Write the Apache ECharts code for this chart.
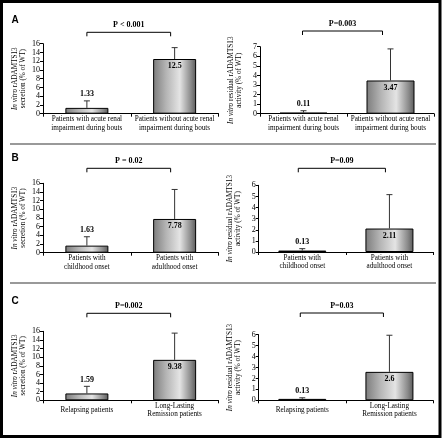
<!DOCTYPE html>
<html>
<head>
<meta charset="utf-8">
<script src="https://cdn.jsdelivr.net/npm/echarts@6/dist/echarts.min.js"></script>
<style>
html,body{margin:0;padding:0;background:#fff;}
#chart{width:442px;height:438px;}
</style>
</head>
<body>
<div id="chart"></div>
<script>
// ---------------- DATA ----------------
const categoriesA = ['Patients with acute renal\nimpairment during bouts', 'Patients without acute renal\nimpairment during bouts'];
const categoriesB = ['Patients with\nchildhood onset', 'Patients with\nadulthood onset'];
const categoriesC = ['Relapsing patients', 'Long-Lasting\nRemission patients'];

const secretionA = [1.33, 12.5];
const secretionSdA = [1.6, 2.6];
const activityA = [0.11, 3.47];
const activitySdA = [0.2, 3.3];

const secretionB = [1.63, 7.78];
const secretionSdB = [2.05, 6.8];
const activityB = [0.13, 2.11];
const activitySdB = [0.17, 3.05];

const secretionC = [1.59, 9.38];
const secretionSdC = [1.65, 6.2];
const activityC = [0.13, 2.6];
const activitySdC = [0.1, 3.35];

const pLabels = ['P < 0.001', 'P=0.003', 'P = 0.02', 'P=0.09', 'P=0.002', 'P=0.03'];
const panelLetters = ['A', 'B', 'C'];

const secretionAxisMax = 16, secretionAxisStep = 2;
const activityAxisMaxA = 7, activityAxisMaxBC = 6, activityAxisStep = 1;

// ---------------- LAYOUT / STYLE ----------------
const SERIF = 'Liberation Serif';
const panels = [
  {grid:{left:43,top:43.7,width:175.5,height:70}, cats:categoriesA, vals:secretionA, sd:secretionSdA, max:secretionAxisMax, step:secretionAxisStep, kind:'secretion', p:pLabels[0], bOff:11.4, bShift:[0,-4]},
  {grid:{left:260,top:46.7,width:174,height:67}, cats:categoriesA, vals:activityA, sd:activitySdA, max:activityAxisMaxA, step:activityAxisStep, kind:'activity', p:pLabels[1], bOff:15.7, bShift:[-1,-8]},
  {grid:{left:43,top:183.3,width:175.5,height:69.4}, cats:categoriesB, vals:secretionB, sd:secretionSdB, max:secretionAxisMax, step:secretionAxisStep, kind:'secretion', p:pLabels[2], bOff:15, bShift:[0,-4]},
  {grid:{left:258.7,top:185.3,width:174.3,height:66.7}, cats:categoriesB, vals:activityB, sd:activitySdB, max:activityAxisMaxBC, step:activityAxisStep, kind:'activity', p:pLabels[3], bOff:17, bShift:[-4,-4]},
  {grid:{left:43,top:331.3,width:175.5,height:69}, cats:categoriesC, vals:secretionC, sd:secretionSdC, max:secretionAxisMax, step:secretionAxisStep, kind:'secretion', p:pLabels[4], bOff:18, bShift:[0,-4]},
  {grid:{left:258.7,top:334.7,width:174.3,height:65.6}, cats:categoriesC, vals:activityC, sd:activitySdC, max:activityAxisMaxBC, step:activityAxisStep, kind:'activity', p:pLabels[5], bOff:21.7, bShift:[-2,-6]}
];

const barFill = {
  type:'linear', x:0, y:0, x2:1, y2:0,
  colorStops:[
    {offset:0, color:'#7c7c7c'},
    {offset:0.3, color:'#b4b4b4'},
    {offset:0.62, color:'#e4e4e4'},
    {offset:0.88, color:'#8a8a8a'},
    {offset:1, color:'#5a5a5a'}
  ]
};

const grids = [], xAxes = [], yAxes = [], series = [];

panels.forEach((pn, i) => {
  grids.push(Object.assign({containLabel:false}, pn.grid));
  const isLeft = pn.kind === 'secretion';
  xAxes.push({
    type:'category', gridIndex:i, data:pn.cats,
    axisLine:{show:true, lineStyle:{color:'#000', width:1}},
    axisTick:{show:true, length:3, inside:false, lineStyle:{color:'#000'}},
    axisLabel:{fontFamily:SERIF, fontSize:7.2, lineHeight:8.3, color:'#000', margin:10, verticalAlign:'middle', interval:0}
  });
  yAxes.push({
    type:'value', gridIndex:i, min:0, max:pn.max, interval:pn.step,
    axisLine:{show:true, lineStyle:{color:'#000', width:1}},
    axisTick:{show:true, length:3, lineStyle:{color:'#000'}},
    splitLine:{show:false},
    axisLabel:{fontFamily:SERIF, fontSize:8, color:'#000', margin:3},
    name: isLeft ? '{i|In vitro} rADAMTS13\nsecretion (% of WT)' : '{i|In vitro} residual rADAMTS13\nactivity (% of WT)',
    nameLocation:'middle', nameRotate:90, nameGap: isLeft ? 16 : 17,
    nameTextStyle:{fontFamily:SERIF, fontSize:7.2, lineHeight:8, color:'#000',
      rich:{i:{fontFamily:SERIF, fontSize:7.2, fontStyle:'italic', color:'#000'}}}
  });
  const big = v => v / pn.max > 0.3;
  series.push({
    type:'bar', xAxisIndex:i, yAxisIndex:i,
    barWidth: isLeft ? 43 : 48,
    itemStyle:{color:barFill, borderColor:'#000', borderWidth:1},
    data: pn.vals.map(v => ({value:v, label:{show:big(v)}})),
    label:{show:true, position:'insideTop', distance:3, fontFamily:SERIF, fontWeight:'bold', fontSize:8, color:'#000'},
    animation:false
  });
  // error bars (+SD), with value labels above for short bars
  series.push({
    type:'custom', xAxisIndex:i, yAxisIndex:i, clip:false, z:5,
    data: pn.vals.map((v, k) => [k, v, v + pn.sd[k]]),
    renderItem:(params, api) => {
      const k = api.value(0), v = api.value(1), t = api.value(2);
      const pBase = api.coord([k, v]);
      const pTop = api.coord([k, t]);
      const children = [
        {type:'line', shape:{x1:pBase[0], y1:pBase[1], x2:pTop[0], y2:pTop[1]}, style:{stroke:'#333', lineWidth:1}},
        {type:'line', shape:{x1:pTop[0]-3, y1:pTop[1], x2:pTop[0]+3, y2:pTop[1]}, style:{stroke:'#333', lineWidth:1}}
      ];
      if (!big(v)) {
        children.push({type:'text', style:{text:String(v), x:pTop[0], y:pTop[1]-2.5, align:'center', verticalAlign:'bottom',
          font:'bold 8px "' + SERIF + '"', fill:'#000'}});
      }
      return {type:'group', children};
    },
    animation:false
  });
  // significance bracket
  series.push({
    type:'custom', xAxisIndex:i, yAxisIndex:i, clip:false, z:5,
    data:[[0, 1]],
    renderItem:(params, api) => {
      const a = api.coord([api.value(0), pn.max]);
      const b = api.coord([api.value(1), pn.max]);
      const y = a[1] - pn.bOff;
      const x0 = a[0] + pn.bShift[0], x1 = b[0] + pn.bShift[1];
      return {type:'group', children:[
        {type:'polyline', shape:{points:[[x0, y+4],[x0, y],[x1, y],[x1, y+4]]}, style:{stroke:'#000', lineWidth:1, fill:null}},
        {type:'text', style:{text:pn.p, x:(x0+x1)/2, y:y-7, align:'center', verticalAlign:'middle',
          font:'bold 8px "' + SERIF + '"', fill:'#000'}}
      ]};
    },
    animation:false
  });
});

const chart = echarts.init(document.getElementById('chart'), null, {renderer:'canvas'});
chart.setOption({
  backgroundColor:'#fff',
  animation:false,
  grid:grids, xAxis:xAxes, yAxis:yAxes, series:series,
  graphic:[
    {type:'rect', shape:{x:1.5, y:1.5, width:438.5, height:435}, style:{fill:null, stroke:'#000', lineWidth:3}, silent:true},
    {type:'line', shape:{x1:10, y1:144, x2:436, y2:144}, style:{stroke:'#777', lineWidth:1.5}, silent:true},
    {type:'line', shape:{x1:10, y1:283, x2:436, y2:283}, style:{stroke:'#777', lineWidth:1.5}, silent:true},
    {type:'text', style:{text:panelLetters[0], x:15, y:20, align:'center', verticalAlign:'middle', font:'bold 10px "Liberation Sans"', fill:'#000'}},
    {type:'text', style:{text:panelLetters[1], x:15, y:158, align:'center', verticalAlign:'middle', font:'bold 10px "Liberation Sans"', fill:'#000'}},
    {type:'text', style:{text:panelLetters[2], x:15, y:301, align:'center', verticalAlign:'middle', font:'bold 10px "Liberation Sans"', fill:'#000'}}
  ]
});
</script>
</body>
</html>
